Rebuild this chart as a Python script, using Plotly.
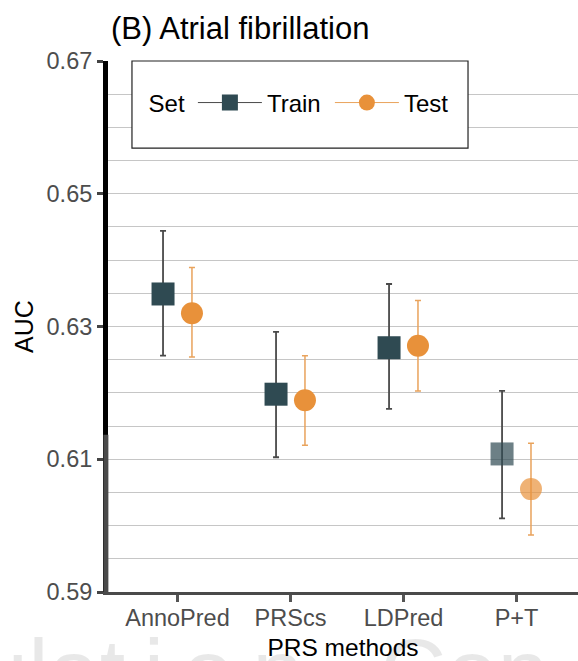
import plotly.graph_objects as go
import numpy as np

methods = ["AnnoPred", "PRScs", "LDPred", "P+T"]
train_auc = [0.6349, 0.6198, 0.6268, 0.6108]
train_lo = [0.6256, 0.6103, 0.6176, 0.6011]
train_hi = [0.6444, 0.6292, 0.6364, 0.6203]
test_auc = [0.6320, 0.6189, 0.6271, 0.6055]
test_lo = [0.6254, 0.6121, 0.6203, 0.5986]
test_hi = [0.6389, 0.6256, 0.6339, 0.6124]
alpha = [1, 1, 1, 0.7]

FONT = "Liberation Sans, Arial, sans-serif"
TRAIN_C = "#2f4a52"
TEST_C = "#e8913a"
dodge = 0.128
xi = np.arange(len(methods))

fig = go.Figure()

def add_series(name, vals, lo, hi, offset, color, symbol, size, ecolor, ewidth):
    v = np.array(vals)
    fig.add_trace(go.Scatter(
        x=xi + offset, y=v, mode="markers", name=name, showlegend=False,
        marker=dict(symbol=symbol, size=size, color=color, opacity=alpha,
                    line=dict(width=0)),
        error_y=dict(type="data", symmetric=False,
                     array=np.array(hi) - v, arrayminus=v - np.array(lo),
                     color=ecolor, thickness=ewidth, width=3),
    ))
    # legend entry (line + marker glyph)
    fig.add_trace(go.Scatter(
        x=[None], y=[None], mode="lines+markers", name=name,
        marker=dict(symbol=symbol, size=size, color=color),
        line=dict(color=ecolor, width=1),
    ))

add_series("Train", train_auc, train_lo, train_hi, -dodge, TRAIN_C, "square", 23, "#4a4a4a", 1.8)
add_series("Test", test_auc, test_lo, test_hi, dodge, TEST_C, "circle", 22, "#e9a35c", 1.5)

WM = "rgba(0,0,0,0.09)"
fig.update_layout(
    width=578, height=661,
    margin=dict(l=108, r=0, t=61, b=69),
    paper_bgcolor="white", plot_bgcolor="white",
    font=dict(family=FONT, color="black"),
    title=dict(text="(B) Atrial fibrillation", x=111/578, xref="container", xanchor="left",
               y=1 - 28/661, yref="container", yanchor="middle",
               font=dict(size=31, family=FONT, color="black")),
    showlegend=True,
    legend=dict(orientation="h", x=0.082, xanchor="left", y=0.921, yanchor="middle",
                bgcolor="rgba(0,0,0,0)", borderwidth=0, itemwidth=64, entrywidth=58,
                title=dict(text="Set", font=dict(size=24, family=FONT, color="black")),
                font=dict(size=24, family=FONT, color="black")),
    shapes=[
        dict(type="rect", xref="paper", yref="paper", x0=0.051, x1=0.766, y0=0.836, y1=1.0,
             fillcolor="white", line=dict(color="#222222", width=1.2), layer="above"),
        dict(type="line", xref="paper", yref="y", x0=-0.0045, x1=-0.0045, y0=0.59, y1=0.6137,
             line=dict(color="#4a4a4a", width=5), layer="above"),
    ],
    annotations=[
        dict(text="ulat\u2009i\u2009o\u2009n", xref="paper", yref="paper", x=-0.283, xanchor="left",
             y=-0.15, yanchor="middle", showarrow=False,
             font=dict(size=92, family=FONT, color=WM)),
        dict(text="Con", xref="paper", yref="paper", x=0.575, xanchor="left",
             y=-0.15, yanchor="middle", showarrow=False,
             font=dict(size=92, family=FONT, color=WM)),
    ],
)

fig.update_xaxes(
    range=[-0.615, 3.544], tickvals=list(xi), ticktext=methods,
    showgrid=False, zeroline=False,
    showline=True, linecolor="#4a4a4a", linewidth=3,
    ticks="outside", ticklen=7, tickwidth=3, tickcolor="#555555", ticklabelstandoff=-4,
    tickfont=dict(size=23.5, family=FONT, color="#4d4d4d"),
    title=dict(text="PRS methods", standoff=10, font=dict(size=24.5, family=FONT, color="black")),
)
fig.update_yaxes(
    range=[0.59, 0.67], tick0=0.59, dtick=0.02, tickformat=".2f",
    showgrid=True, gridcolor="#c6c6c6", gridwidth=1.3, zeroline=False,
    minor=dict(dtick=0.005, tick0=0.59, showgrid=True, gridcolor="#c6c6c6", gridwidth=1.3, ticks=""),
    showline=True, linecolor="black", linewidth=5,
    ticks="outside", ticklen=6, tickwidth=3, tickcolor="#444444",
    tickfont=dict(size=23.5, family=FONT, color="#4d4d4d"),
    title=dict(text="AUC", standoff=7, font=dict(size=25, family=FONT, color="black")),
)

fig.write_html("out.html", config={"displayModeBar": False},
               post_script="document.body.style.margin='0';")
